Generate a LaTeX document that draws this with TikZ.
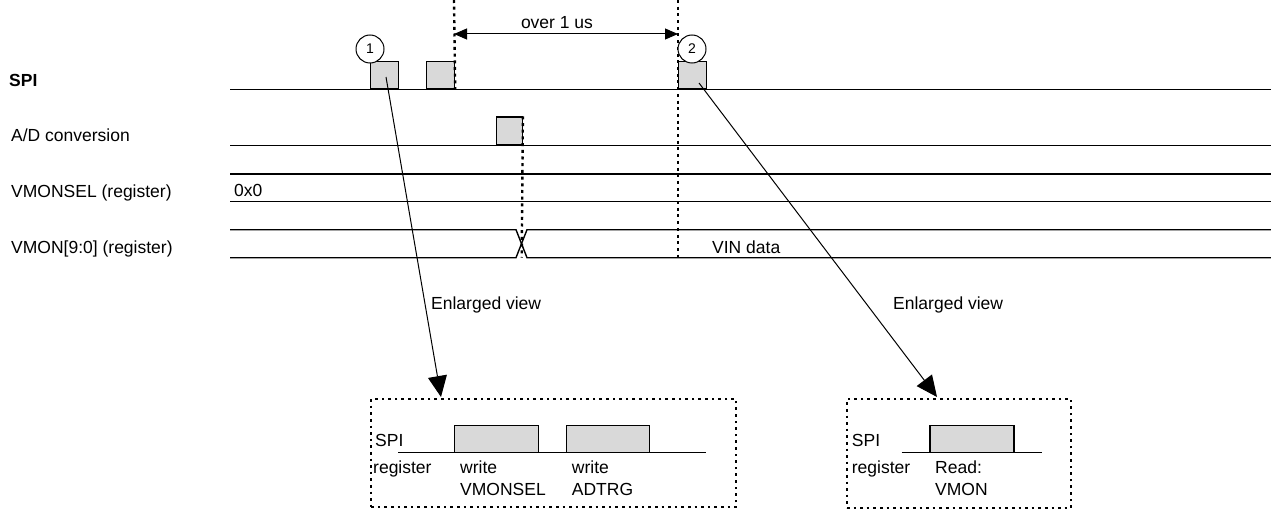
\documentclass[tikz,border=0pt]{standalone}
\usepackage{fontspec}
\setmainfont{Liberation Sans}
\usetikzlibrary{arrows.meta}
\begin{document}
\begin{tikzpicture}[x=1pt,y=-1pt,
  every node/.style={font=\fontsize{17.5}{20}\selectfont},
  wave/.style={line width=1.4pt},
  pulse/.style={draw, fill=gray!30, line width=1.2pt, inner sep=0pt, anchor=south west, minimum height=27pt},
  vdot/.style={line width=2.4pt, dash pattern=on 3pt off 3.7pt},
  frame/.style={draw, line width=2.4pt, dash pattern=on 2.6pt off 4pt, inner sep=0pt, anchor=north west},
  lbl/.style={anchor=base west, inner sep=0pt},
  num/.style={draw, circle, fill=white, line width=1pt, minimum size=28pt, inner sep=0pt, font=\fontsize{14}{16}\selectfont},
  pointer/.style={line width=1pt, -{Triangle[length=21pt,width=19pt]}},
  span/.style={line width=1pt, {Triangle[length=13pt,width=11pt]}-{Triangle[length=13pt,width=11pt]}},
]
\useasboundingbox (0,0) rectangle (1271,511);

% ---- row labels
\node[lbl, font=\fontsize{17.5}{20}\selectfont\bfseries] (lspi) at (9,86) {SPI};
\node[lbl] (lad) at (11,141) {A/D conversion};
\node[lbl] (lsel) at (11,197) {VMONSEL (register)};
\node[lbl] (lmon) at (11,253) {VMON[9:0] (register)};

% ---- wave lines
\coordinate (s0) at (230,89.5);   \coordinate (s1) at (1271,89.5);
\coordinate (a0) at (230,145.5);  \coordinate (a1) at (1271,145.5);
\coordinate (v0) at (230,174);    \coordinate (v1) at (1271,174);
\coordinate (v2) at (230,201.7);  \coordinate (v3) at (1271,201.7);
\draw[wave] (s0) -- (s1);
\draw[wave] (a0) -- (a1);
\draw[wave] (v0) -- (v1);
\draw[wave] (v2) -- (v3);

\coordinate (ml0) at (230,229.7); \coordinate (ml1) at (230,257.7);
\coordinate (xa) at (516,229.7);  \coordinate (xb) at (516,257.7);
\coordinate (xc) at (527,229.7);  \coordinate (xd) at (527,257.7);
\coordinate (mr0) at (1271,229.7); \coordinate (mr1) at (1271,257.7);
\draw[wave] (ml0) -- (xa) -- (xd) -- (mr1);
\draw[wave] (ml1) -- (xb) -- (xc) -- (mr0);

\node[lbl] (zero) at (234,196) {0x0};
\node[lbl] (vin) at (712,253) {VIN data};

% ---- pulses
\node[pulse, minimum width=28pt] (b1) at (370,89.5) {};
\node[pulse, minimum width=28pt] (b2) at (426,89.5) {};
\node[pulse, minimum width=28pt] (b3) at (678,89.5) {};
\node[pulse, minimum width=26pt, minimum height=28pt] (ad) at (495.7,145.5) {};

% ---- dotted markers
\coordinate (d1t) at (454,0);
\coordinate (d2t) at (678,0);
\coordinate (d2b) at (678,257.7);
\coordinate (d3b) at (521.7,257.7);
\draw[vdot] (d1t) -- (b2.south east);
\draw[vdot] (d2t) -- (d2b);
\draw[vdot] (ad.north east) -- (d3b);

% ---- timing span
\coordinate (m1) at (454,34);
\coordinate (m2) at (678,34);
\draw[span] (m1) -- (m2);
\node[anchor=base, inner sep=0pt] (over) at (557,29) {over 1 us};

% ---- numbered circles
\node[num] (n1) at (370,49) {1};
\node[num] (n2) at (692,49) {2};

% ---- enlarged frames
\node[frame, minimum width=365pt, minimum height=108pt] (enl1) at (370,397.7) {};
\node[frame, minimum width=224.3pt, minimum height=109pt] (enl2) at (845.7,397.7) {};

% ---- pointers
\coordinate (p1s) at (386,77);
\coordinate (p1e) at (441,397);
\coordinate (p2s) at (699,83);
\coordinate (p2e) at (937,397);
\draw[pointer] (p1s) -- (p1e);
\draw[pointer] (p2s) -- (p2e);
\node[lbl] (ev1) at (431,309) {Enlarged view};
\node[lbl] (ev2) at (893,309) {Enlarged view};

% ---- enlarged view 1
\coordinate (e1a) at (398,452.7);
\coordinate (e1b) at (706,452.7);
\draw[wave] (e1a) -- (e1b);
\node[pulse, minimum width=84pt] (w1) at (454,452.7) {};
\node[pulse, minimum width=83.3pt] (w2) at (565.7,452.7) {};
\node[lbl] (e1spi) at (375,446) {SPI};
\node[lbl] (e1reg) at (373,473) {register};
\node[lbl] (e1w1) at (460,473) {write};
\node[lbl] (e1w1b) at (460,495.5) {VMONSEL};
\node[lbl] (e1w2) at (571.7,473) {write};
\node[lbl] (e1w2b) at (571.7,495.5) {ADTRG};

% ---- enlarged view 2
\coordinate (e2a) at (901.7,452.7);
\coordinate (e2b) at (1041.7,452.7);
\draw[wave] (e2a) -- (e2b);
\node[pulse, minimum width=84pt] (r1) at (929.3,452.7) {};
\node[lbl] (e2spi) at (851.7,446) {SPI};
\node[lbl] (e2reg) at (851.7,473) {register};
\node[lbl] (e2r) at (935,473) {Read:};
\node[lbl] (e2rb) at (935,495.5) {VMON};
\end{tikzpicture}
\end{document}
